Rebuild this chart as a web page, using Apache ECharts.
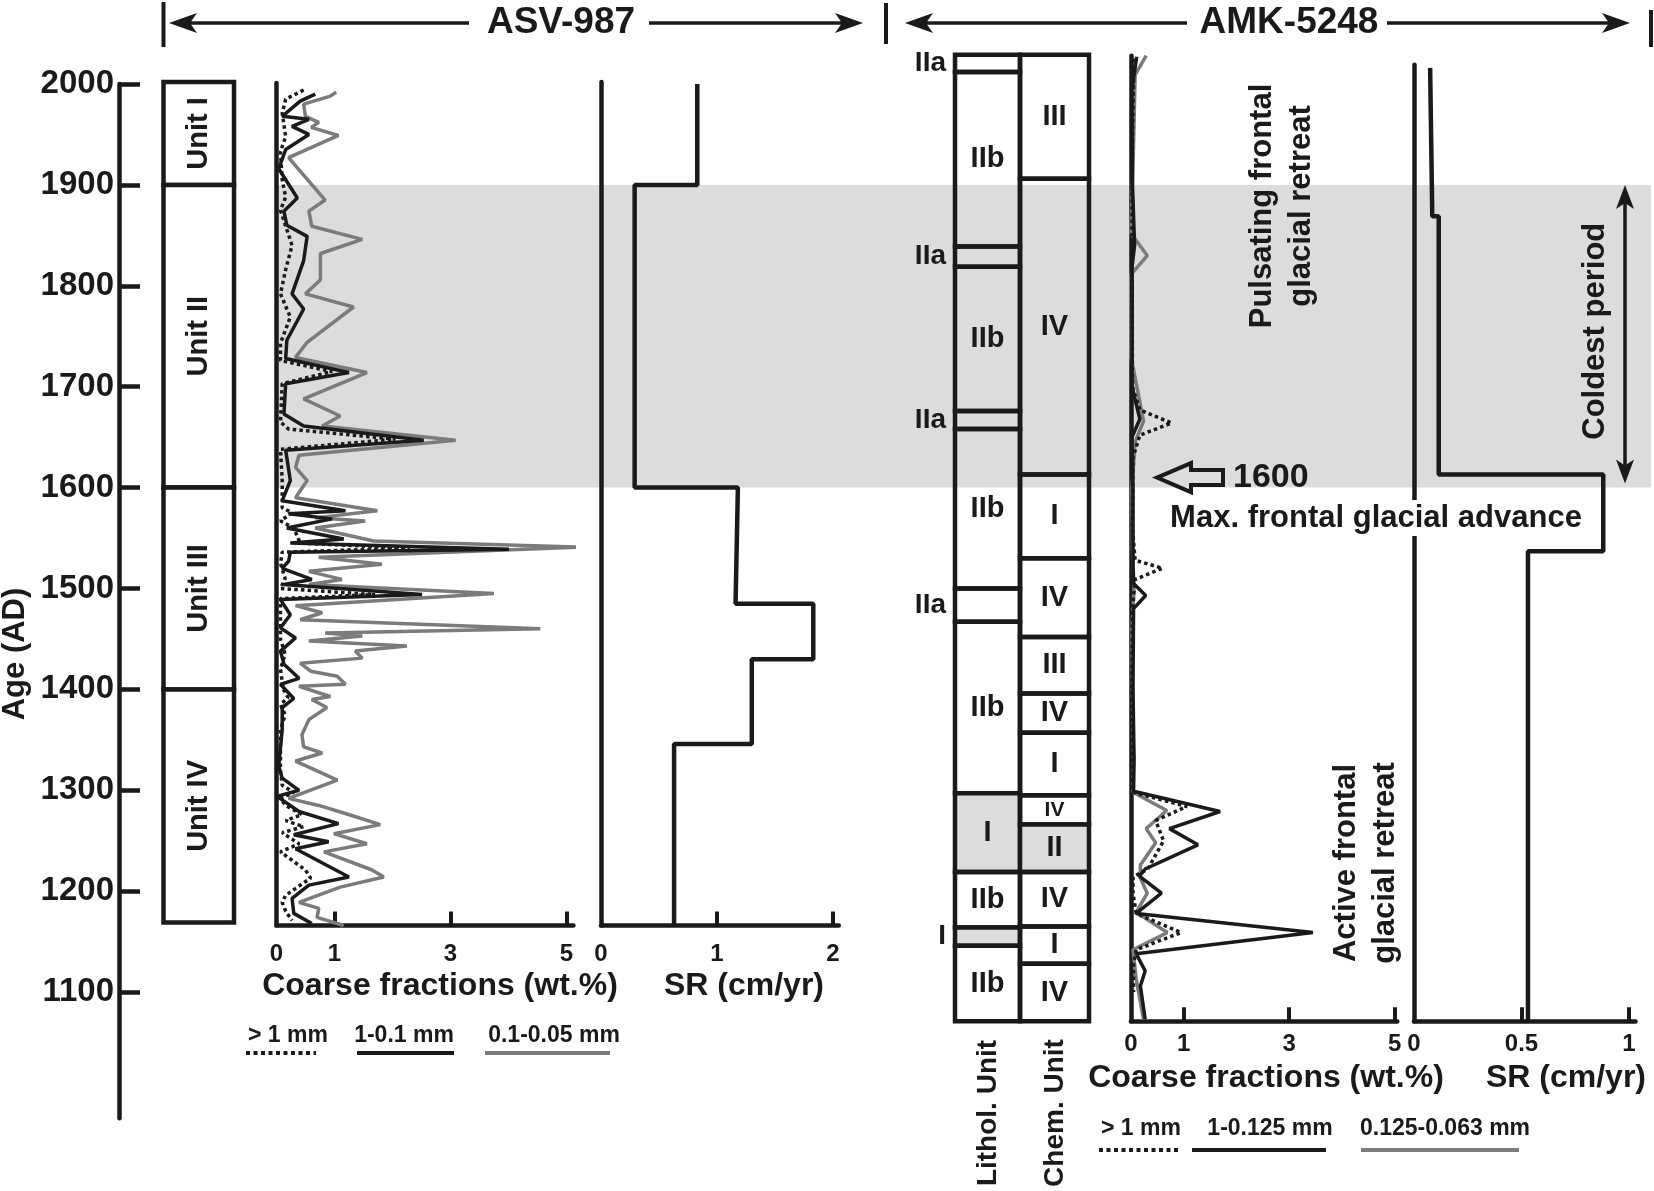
<!DOCTYPE html>
<html><head><meta charset="utf-8">
<script src="https://cdn.jsdelivr.net/npm/echarts/dist/echarts.min.js"></script>
<style>html,body{margin:0;padding:0;background:#fff}#c{width:1654px;height:1191px}</style>
</head><body><div id="c"></div>
<script>
// ---------------- DATA ----------------
const ageTicks = [1100,1200,1300,1400,1500,1600,1700,1800,1900,2000];
const coarseTicks = [0,1,3,5];
const srTicksASV = [0,1,2];
const srTicksAMK = [0,0.5,1];
const coldPeriod = [1900,1600];

// ASV-987 units [top age, bottom age, label]
const asvUnits = [[2002,1900,'Unit I'],[1900,1600,'Unit II'],[1600,1400,'Unit III'],[1400,1169,'Unit IV']];

// ASV-987 coarse fractions [wt.%, age]
const asvCoarse = [[0.47,1994],[0.16,1985],[0.1,1971],[0.16,1948],[0.07,1933],[0.1,1905],[0.16,1888],[0.07,1875],[0.27,1840],[0.16,1816],[0.07,1792],[0.24,1769],[0.07,1743],[0.07,1726],[0.96,1715],[0.1,1703],[0.07,1665],[0.21,1658],[2.05,1648],[0.07,1638],[0.1,1607],[0.1,1590],[0.1,1580],[0.27,1575],[0.07,1567],[0.3,1560],[0.41,1545],[2.3,1540],[0.1,1536],[0.07,1525],[0.15,1510],[0.07,1500],[1.7,1494],[0.07,1490],[0.07,1450],[0.15,1435],[0.07,1420],[0.12,1400],[0.2,1392],[0.07,1385],[0.15,1375],[0.07,1360],[0.07,1320],[0.1,1305],[0.3,1298],[0.07,1292],[0.16,1285],[0.44,1276],[0.16,1270],[0.47,1264],[0.1,1258],[0.39,1247],[0.07,1239],[0.5,1221],[0.59,1213],[0.16,1196],[0.1,1189],[0.16,1180],[0.27,1171]];
const asvMid = [[0.67,1990],[0.41,1983],[0.1,1968],[0.56,1965],[0.27,1958],[0.56,1950],[0.16,1935],[0.04,1916],[0.36,1887],[0.13,1874],[0.18,1860],[0.53,1849],[0.47,1825],[0.27,1792],[0.47,1777],[0.18,1746],[0.16,1728],[1.25,1714],[0.16,1703],[0.13,1673],[0.47,1661],[2.54,1647],[0.16,1637],[0.24,1607],[0.1,1587],[1.19,1577],[0.21,1574],[0.96,1569],[0.18,1560],[1.16,1549],[0.24,1545],[4.01,1539],[0.24,1536],[0.21,1527],[0.1,1520],[0.61,1509],[0.13,1504],[2.51,1494],[0.07,1489],[0.24,1474],[0.07,1461],[0.33,1451],[0.07,1438],[0.13,1425],[0.39,1411],[0.07,1405],[0.3,1391],[0.1,1382],[0.1,1360],[0.07,1342],[0.04,1324],[0.1,1312],[0.39,1300],[0.01,1294],[0.39,1279],[1.07,1267],[0.3,1256],[0.9,1249],[0.33,1242],[1.25,1214],[0.56,1206],[0.27,1193],[0.3,1178],[0.61,1168]];
const asvFine = [[1.03,1992],[0.93,1988],[0.47,1980],[0.5,1968],[0.73,1962],[0.6,1957],[1.07,1949],[0.21,1927],[0.84,1885],[0.56,1874],[0.61,1859],[1.48,1846],[0.76,1832],[0.76,1806],[0.5,1792],[1.33,1779],[0.53,1744],[0.33,1729],[1.56,1714],[0.47,1688],[1.1,1671],[0.79,1661],[3.09,1647],[0.39,1632],[0.33,1620],[0.53,1607],[0.33,1590],[1.74,1577],[0.67,1570],[1.53,1567],[0.67,1560],[1.68,1547],[5.21,1541],[0.73,1531],[1.82,1524],[0.56,1517],[1.13,1509],[0.56,1504],[3.75,1495],[0.33,1483],[0.79,1476],[0.41,1469],[4.55,1460],[0.84,1456],[1.48,1453],[0.56,1448],[2.25,1443],[1.36,1438],[1.48,1431],[0.41,1426],[0.59,1418],[1.05,1413],[1.19,1405],[0.39,1403],[0.93,1393],[0.61,1390],[0.87,1382],[0.56,1370],[0.44,1355],[0.47,1343],[0.79,1337],[0.33,1329],[1.05,1310],[0.21,1292],[0.73,1285],[1.19,1277],[1.79,1266],[0.99,1257],[1.56,1247],[0.82,1239],[1.65,1221],[1.85,1214],[1.1,1204],[0.39,1189],[0.73,1183],[0.7,1174],[1.16,1166]];

// ASV-987 sedimentation rate [cm/yr, age]
const asvSR = [[0.83,2000],[0.83,1900],[0.29,1900],[0.29,1600],[1.18,1600],[1.16,1485],[1.83,1485],[1.83,1430],[1.30,1430],[1.30,1346],[0.63,1346],[0.63,1166]];

// AMK-5248 lithological and chemical units [top age, bottom age, label]
const amkLithol = [[2029,2012,'IIa'],[2012,1839,'IIb'],[1839,1819,'IIa'],[1819,1676,'IIb'],[1676,1658,'IIa'],[1658,1500,'IIb'],[1500,1467,'IIa'],[1467,1297,'IIb'],[1297,1219,'I'],[1219,1164,'IIb'],[1164,1146,'I'],[1146,1071,'IIb']];
const amkChem = [[2029,1906,'III'],[1906,1613,'IV'],[1613,1530,'I'],[1530,1452,'IV'],[1452,1396,'III'],[1396,1357,'IV'],[1357,1295,'I'],[1295,1266,'IV'],[1266,1219,'II'],[1219,1165,'IV'],[1165,1128,'I'],[1128,1071,'IV']];

// AMK-5248 coarse fractions [wt.%, age]
const amkCoarse = [[0.06,2025],[0.03,1950],[0.02,1850],[0.03,1700],[0.17,1677],[0.77,1664],[0.17,1652],[0.04,1630],[0.03,1560],[0.08,1528],[0.6,1520],[0.08,1509],[0.03,1480],[0.02,1400],[0.03,1320],[0.04,1298],[1.06,1284],[0.47,1270],[0.62,1250],[0.32,1222],[0.04,1214],[0.04,1198],[0.1,1178],[0.95,1159],[0.1,1142],[0.05,1127],[0.05,1100]];
const amkMid = [[0.11,2027],[0.02,1995],[0.03,1900],[0.07,1840],[0.02,1818],[0.02,1700],[0.17,1668],[0.02,1650],[0.04,1600],[0.04,1520],[0.05,1505],[0.28,1493],[0.05,1480],[0.04,1400],[0.06,1330],[0.05,1299],[1.69,1279],[0.73,1262],[1.27,1246],[0.27,1222],[0.16,1215],[0.58,1198],[0.1,1178],[3.45,1159],[0.1,1138],[0.27,1121],[0.18,1106],[0.27,1073]];
const amkFine = [[0.29,2028],[0.08,2009],[0.05,1938],[0.0,1852],[0.31,1830],[0.0,1811],[0.0,1730],[0.24,1666],[0.08,1645],[0.02,1598],[0.03,1540],[0.06,1500],[0.02,1460],[0.03,1400],[0.05,1330],[0.04,1298],[0.68,1280],[0.29,1262],[0.47,1248],[0.18,1226],[0.18,1213],[0.31,1198],[0.1,1179],[0.69,1159],[0.04,1142],[0.1,1113],[0.24,1073]];

// AMK-5248 sedimentation rate [cm/yr, age]
const amkSR = [[0.075,2016],[0.085,1869],[0.115,1869],[0.115,1613],[0.88,1613],[0.88,1537],[0.53,1537],[0.53,1071]];

// ---------------- LAYOUT ----------------
const FONT = "'Liberation Sans', Arial, Helvetica, sans-serif";
const INK = '#1a1a1a';
const GREY = '#7b7b7b';
const BAND = '#dcdcdc';
const Y0 = 84, K = 1.009;
const yPix = a => Y0 + (2000 - a) * K;

const panels = [
  {left:119,    width:40,    aTop:2000, aBot:975,  xMax:1},     // 0 age axis
  {left:163.5,  width:70.5,  aTop:2002, aBot:1169, xMax:1},     // 1 ASV units
  {left:276.4,  width:297,   aTop:2001, aBot:1166, xMax:5.12},  // 2 ASV coarse
  {left:601,    width:237.8, aTop:2002, aBot:1166, xMax:2.05},  // 3 ASV SR
  {left:955,    width:65,    aTop:2029, aBot:1071, xMax:1},     // 4 lithol
  {left:1020,   width:69,    aTop:2029, aBot:1071, xMax:1},     // 5 chem
  {left:1130.9, width:266.4, aTop:2028, aBot:1071, xMax:5.05},  // 6 AMK coarse
  {left:1414,   width:221.5, aTop:2019, aBot:1071, xMax:1.03},  // 7 AMK SR
  {left:276,    width:1375,  aTop:2031, aBot:975,  xMax:1}      // 8 band
];

const grid = panels.map(p => ({left:p.left, width:p.width, top:yPix(p.aTop), height:(p.aTop-p.aBot)*K, containLabel:false}));

const plain = v => String(v);
const axLine = {show:true, onZero:false, lineStyle:{color:INK, width:4.5}};
const hiddenX = i => ({gridIndex:i, type:'value', min:0, max:panels[i].xMax, show:false});
const hiddenY = i => ({gridIndex:i, type:'value', min:panels[i].aBot, max:panels[i].aTop, show:false});
function visX(i, ticks, margin) {
  return {gridIndex:i, type:'value', min:0, max:panels[i].xMax, position:'bottom',
    axisLine:axLine,
    axisTick:{show:true, inside:true, length:14, lineStyle:{color:INK, width:4}, customValues:ticks.filter(v=>v>0)},
    axisLabel:{show:true, customValues:ticks, formatter:plain, color:INK, fontSize:24, fontWeight:'bold', fontFamily:FONT, margin:margin, showMinLabel:true, showMaxLabel:true},
    splitLine:{show:false}};
}
function lineY(i) {
  return {gridIndex:i, type:'value', min:panels[i].aBot, max:panels[i].aTop, position:'left',
    axisLine:axLine, axisTick:{show:false}, axisLabel:{show:false}, splitLine:{show:false}};
}

const xAxis = [
  hiddenX(0), hiddenX(1), visX(2, coarseTicks, 17), visX(3, srTicksASV, 17),
  hiddenX(4), hiddenX(5), visX(6, coarseTicks, 11), visX(7, srTicksAMK, 11), hiddenX(8)
];
const yAxis = [
  {gridIndex:0, type:'value', min:panels[0].aBot, max:panels[0].aTop, position:'left',
   axisLine:axLine,
   axisTick:{show:true, inside:true, length:21, lineStyle:{color:INK, width:4.5}, customValues:ageTicks},
   axisLabel:{show:true, customValues:ageTicks, formatter:plain, color:INK, fontSize:33, fontWeight:'bold', fontFamily:FONT, margin:5},
   splitLine:{show:false}},
  hiddenY(1), lineY(2), lineY(3), hiddenY(4), hiddenY(5), lineY(6), lineY(7), hiddenY(8)
];

// ---------------- SERIES ----------------
function boxSeries(idx, units, mode) {
  return {
    type:'custom', xAxisIndex:idx, yAxisIndex:idx, clip:false, z:3, silent:true,
    data: units.map(u => [0, u[0], u[1]]),
    renderItem: (params, api) => {
      const u = units[params.dataIndex];
      const p1 = api.coord([0, u[0]]), p2 = api.coord([1, u[1]]);
      const h = p2[1] - p1[1], w = p2[0] - p1[0];
      let fill = '#ffffff';
      if (mode === 'lith') fill = (u[2] === 'I') ? BAND : 'rgba(0,0,0,0)';
      if (mode === 'chem') fill = (u[2] === 'II') ? BAND : 'rgba(0,0,0,0)';
      const children = [{type:'rect', shape:{x:p1[0], y:p1[1], width:w, height:h},
        style:{fill:fill, stroke:INK, lineWidth:4.5}}];
      const cx = p1[0] + w/2, cy = p1[1] + h/2;
      if (mode === 'asv') {
        children.push({type:'text', x:cx, y:cy, rotation:Math.PI/2,
          style:{text:u[2], fill:INK, fontSize:29, fontWeight:'bold', fontFamily:FONT, textAlign:'center', textVerticalAlign:'middle'}});
      } else if (mode === 'lith') {
        if (h < 40) {
          children.push({type:'text', x:p1[0]-9, y:cy,
            style:{text:u[2], fill:INK, fontSize:28, fontWeight:'bold', fontFamily:FONT, textAlign:'right', textVerticalAlign:'middle'}});
        } else {
          children.push({type:'text', x:cx, y:cy,
            style:{text:u[2], fill:INK, fontSize:29, fontWeight:'bold', fontFamily:FONT, textAlign:'center', textVerticalAlign:'middle'}});
        }
      } else {
        children.push({type:'text', x:cx, y:cy,
          style:{text:u[2], fill:INK, fontSize:(h < 32 ? 21 : 29), fontWeight:'bold', fontFamily:FONT, textAlign:'center', textVerticalAlign:'middle'}});
      }
      return {type:'group', children};
    }
  };
}

function lineSeries(idx, data, kind) {
  let ls;
  if (kind === 'coarse') ls = {color:INK, width:3.5, type:[3.5,3.2]};
  else if (kind === 'mid') ls = {color:INK, width:3.5};
  else if (kind === 'sr') ls = {color:INK, width:4.5};
  else ls = {color:GREY, width:3.5};
  return {type:'line', xAxisIndex:idx, yAxisIndex:idx, data:data, symbol:'none', clip:false,
    lineStyle:ls, z:(kind==='fine'?4:(kind==='mid'?5:6)), silent:true, animation:false};
}

const series = [
  {type:'custom', xAxisIndex:8, yAxisIndex:8, z:-1, silent:true, clip:false,
   data:[[0, coldPeriod[0], coldPeriod[1]]],
   renderItem:(params, api) => {
     const p1 = api.coord([0, api.value(1)]), p2 = api.coord([1, api.value(2)]);
     return {type:'rect', shape:{x:p1[0], y:p1[1], width:p2[0]-p1[0], height:p2[1]-p1[1]}, style:{fill:BAND}};
   }},
  boxSeries(1, asvUnits, 'asv'),
  lineSeries(2, asvFine, 'fine'),
  lineSeries(2, asvMid, 'mid'),
  lineSeries(2, asvCoarse, 'coarse'),
  lineSeries(3, asvSR, 'sr'),
  boxSeries(4, amkLithol, 'lith'),
  boxSeries(5, amkChem, 'chem'),
  lineSeries(6, amkFine, 'fine'),
  lineSeries(6, amkMid, 'mid'),
  lineSeries(6, amkCoarse, 'coarse'),
  lineSeries(7, amkSR, 'sr')
];

// ---------------- ANNOTATIONS ----------------
const G = [];
function txt(x, y, text, size, opts) {
  opts = opts || {};
  G.push({type:'text', x:x, y:y, rotation:opts.rot || 0, z:60,
    style:{text:text, fill:INK, fontSize:size, fontWeight:'bold', fontFamily:FONT,
      textAlign:opts.align || 'center', textVerticalAlign:'middle', lineHeight:opts.lh}});
}
function seg(x1, y1, x2, y2, w, dash, color) {
  G.push({type:'line', z:60, shape:{x1, y1, x2, y2}, style:{stroke:color || INK, lineWidth:w, lineDash:dash || null}});
}
function head(tx, ty, dx, dy, len, half) {
  const bx = tx - dx*len, by = ty - dy*len;
  const px = -dy*half, py = dx*half;
  const nx = tx - dx*len*0.75, ny = ty - dy*len*0.75;
  G.push({type:'polygon', z:60, shape:{points:[[tx,ty],[bx+px,by+py],[nx,ny],[bx-px,by-py]]}, style:{fill:INK}});
}

// title row
seg(163.5, 2, 163.5, 47, 4);
seg(175, 23, 469, 23, 3.5); head(169, 23, -1, 0, 28, 10);
txt(561, 23, 'ASV-987', 37);
seg(649, 23, 857, 23, 3.5); head(863, 23, 1, 0, 28, 10);
seg(886, 3, 886, 44, 4);
seg(911, 23, 1187, 23, 3.5); head(905, 23, -1, 0, 28, 10);
txt(1289, 23, 'AMK-5248', 37);
seg(1387, 23, 1624, 23, 3.5); head(1630, 23, 1, 0, 28, 10);
seg(1651, 10, 1651, 47, 4);

// axis title
txt(15, 654, 'Age (AD)', 31, {rot:Math.PI/2});

// ASV axis titles & legend
txt(440, 986, 'Coarse fractions (wt.%)', 32);
txt(744, 986, 'SR (cm/yr)', 32);
txt(288, 1036, '> 1 mm', 23);
txt(404, 1036, '1-0.1 mm', 23);
txt(554, 1036, '0.1-0.05 mm', 23);
seg(246, 1053, 316, 1053, 4, [4,3.5]);
seg(357, 1053, 454, 1053, 4);
seg(485, 1053, 610, 1053, 4, null, GREY);

// AMK axis titles & legend
txt(988, 1113, 'Lithol. Unit', 28, {rot:Math.PI/2});
txt(1055, 1113, 'Chem. Unit', 28, {rot:Math.PI/2});
txt(1266, 1078, 'Coarse fractions (wt.%)', 32);
txt(1566, 1078, 'SR (cm/yr)', 32);
txt(1141, 1129, '> 1 mm', 23);
txt(1270, 1129, '1-0.125 mm', 23);
txt(1445, 1129, '0.125-0.063 mm', 23);
seg(1099, 1150, 1181, 1150, 4, [4,3.5]);
seg(1192, 1150, 1326, 1150, 4);
seg(1361, 1150, 1519, 1150, 4, null, GREY);

// interpretation texts
txt(1282, 206, 'Pulsating frontal\nglacial retreat', 31, {rot:Math.PI/2, lh:39});
txt(1366, 863, 'Active frontal\nglacial retreat', 31, {rot:Math.PI/2, lh:39});
txt(1595, (yPix(coldPeriod[0]) + yPix(coldPeriod[1]))/2 - 5, 'Coldest period', 31, {rot:Math.PI/2});
const yTopA = yPix(coldPeriod[0]), yBotA = yPix(coldPeriod[1]) - 4;
seg(1625, yTopA + 18, 1625, yBotA - 18, 3.5);
head(1625, yTopA, 0, -1, 24, 9);
head(1625, yBotA, 0, 1, 24, 9);

// 1600 hollow arrow and text
const ya = yPix(coldPeriod[1]) - 10;
G.push({type:'polygon', z:60, shape:{points:[[1157,ya],[1191,ya-14.5],[1191,ya-7.5],[1223,ya-7.5],[1223,ya+7.5],[1191,ya+7.5],[1191,ya+14.5]]},
  style:{fill:'rgba(0,0,0,0)', stroke:INK, lineWidth:4, lineJoin:'miter'}});
txt(1233, ya, '1600', 34, {align:'left'});
G.push({type:'rect', z:59, shape:{x:1160, y:500, width:432, height:36}, style:{fill:'#ffffff'}});
txt(1376, 518, 'Max. frontal glacial advance', 31);

const chart = echarts.init(document.getElementById('c'), null, {renderer:'canvas'});
chart.setOption({
  animation:false,
  backgroundColor:'#ffffff',
  grid:grid, xAxis:xAxis, yAxis:yAxis, series:series,
  graphic:{elements:G}
});
</script></body></html>
